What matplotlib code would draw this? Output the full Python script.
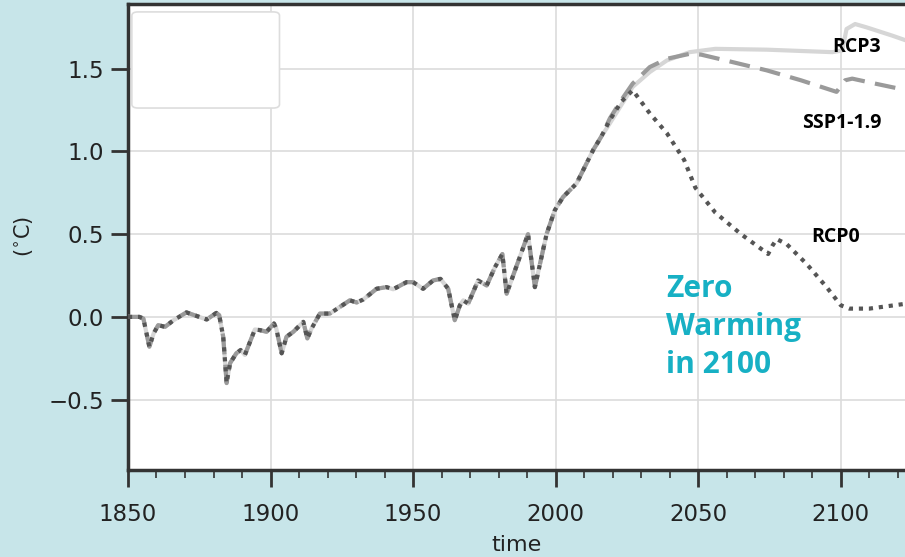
import matplotlib
matplotlib.use("Agg")
import matplotlib.pyplot as plt
from matplotlib.patches import FancyBboxPatch
import numpy as np

# ---------------- data ----------------
hist_years = [1850, 1854, 1855.4, 1857.5, 1859, 1860.6, 1863, 1866, 1870.5, 1874,
              1877.6, 1881, 1882, 1883.4, 1884.6, 1885.8, 1888, 1889.5, 1891, 1894.5,
              1896.3, 1898.6, 1901.2, 1902, 1903.9, 1905.6, 1908, 1911.5, 1912.9, 1914.4,
              1917.3, 1920.8, 1924.3, 1927.8, 1930.2, 1932.5, 1937.2, 1940.7, 1943, 1947.7,
              1950, 1953.5, 1957, 1959.6, 1962.3, 1964.6, 1966.4, 1967.6, 1969.3, 1972.8,
              1975.8, 1978.7, 1981.3, 1982.8, 1985.7, 1990.3, 1992.7, 1996.8, 1999.7, 2002.6,
              2007.3, 2013.1, 2016]
hist_vals = [0.00, 0.00, -0.01, -0.18, -0.10, -0.05, -0.06, -0.02, 0.027, 0.006,
             -0.016, 0.024, 0.01, -0.12, -0.40, -0.28, -0.22, -0.20, -0.23, -0.076,
             -0.08, -0.09, -0.04, -0.07, -0.22, -0.12, -0.09, -0.03, -0.13, -0.07,
             0.02, 0.02, 0.06, 0.10, 0.087, 0.105, 0.17, 0.18, 0.167, 0.21,
             0.21, 0.17, 0.22, 0.23, 0.17, -0.02, 0.07, 0.10, 0.08, 0.22,
             0.19, 0.30, 0.38, 0.14, 0.28, 0.50, 0.18, 0.50, 0.645, 0.725,
             0.806, 1.007, 1.09]

rcp0_years = [2019, 2023, 2027, 2033, 2039, 2045, 2049, 2056, 2065, 2074.5,
              2076, 2077.5, 2081, 2088, 2095, 2100, 2103, 2110, 2123]
rcp0_vals = [1.19, 1.30, 1.37, 1.23, 1.11, 0.95, 0.78, 0.63, 0.50, 0.38,
             0.43, 0.47, 0.44, 0.32, 0.18, 0.07, 0.05, 0.05, 0.08]

ssp119_years = [2019, 2023, 2027, 2033, 2039, 2047, 2051, 2062, 2074, 2086,
                2098.5, 2101.5, 2104, 2112, 2123]
ssp119_vals = [1.20, 1.31, 1.41, 1.51, 1.56, 1.59, 1.585, 1.54, 1.49, 1.43,
               1.36, 1.43, 1.44, 1.41, 1.37]

rcp3_years = [2019, 2023, 2027, 2033, 2039, 2047, 2056, 2074, 2097, 2100.5,
              2102, 2105, 2109, 2118, 2123]
rcp3_vals = [1.17, 1.28, 1.39, 1.48, 1.55, 1.60, 1.62, 1.615, 1.60, 1.61,
             1.74, 1.77, 1.75, 1.70, 1.67]

x_ticks = [1850, 1900, 1950, 2000, 2050, 2100]
y_ticks = [-0.5, 0.0, 0.5, 1.0, 1.5]

# ---------------- figure ----------------
BG = "#c7e5e9"
fig = plt.figure(figsize=(9.05, 5.57), dpi=100, facecolor=BG)
ax = fig.add_axes([0.1414, 0.156, 0.8586, 0.8377])
ax.set_facecolor("white")

def series(yrs, vals):
    return np.array(hist_years + yrs), np.array(hist_vals + vals)

x3, y3 = series(rcp3_years, rcp3_vals)
xs, ys = series(ssp119_years, ssp119_vals)
x0, y0 = series(rcp0_years, rcp0_vals)

ax.plot(x3, y3, color="#d6d6d6", lw=3, solid_capstyle="round", zorder=3)
ax.plot(xs, ys, color="#9a9a9a", lw=3, linestyle=(0, (5, 2.5)), zorder=4)
ax.plot(x0, y0, color="#555555", lw=3, linestyle=(0, (1, 1.4)), zorder=5)

ax.set_xlim(1850, 2122.5)
ax.set_ylim(-0.926, 1.894)
ax.set_xticks(x_ticks)
ax.set_yticks(y_ticks)
ax.set_xticks(np.arange(1850, 2125, 10), minor=True)
ax.set_yticklabels(["\u22120.5", "0.0", "0.5", "1.0", "1.5"])
ax.grid(True, which="major", color="#dcdcdc", lw=1.2)
ax.set_axisbelow(True)

for s in ["left", "bottom", "top"]:
    ax.spines[s].set_color("#333333")
    ax.spines[s].set_linewidth(2.5)
ax.spines["right"].set_visible(False)

ax.tick_params(axis="both", which="major", length=12, width=2, color="#333333",
               labelsize=16.5, labelcolor="#222222")
ax.tick_params(axis="x", which="major", pad=12)
ax.tick_params(axis="y", which="major", pad=5)
ax.tick_params(axis="x", which="minor", length=6, width=1.2, color="#333333")

ax.set_xlabel("time", fontsize=16, color="#222222", labelpad=6)
ax.set_ylabel("($^{\\circ}$C)", fontsize=15, color="#222222", labelpad=10)

# empty legend frame
box = FancyBboxPatch((0.005, 0.776), 0.19, 0.206, boxstyle="round,pad=0,rounding_size=0.008",
                     transform=ax.transAxes, facecolor="white", edgecolor="#dddddd",
                     lw=1.2, zorder=6)
ax.add_patch(box)

# annotations
lab = dict(fontsize=14, fontweight="bold", color="black", family=["Open Sans", "DejaVu Sans"])
ax.text(2105.6, 1.63, "RCP3", ha="center", va="center", **lab)
ax.text(2100.3, 1.17, "SSP1-1.9", ha="center", va="center", **lab)
ax.text(2098.2, 0.48, "RCP0", ha="center", va="center", **lab)

ax.text(2038.8, -0.06, "Zero\nWarming\nin 2100", ha="left", va="center",
        fontsize=21.5, fontweight="bold", color="#17b0c4", linespacing=1.36,
        family=["Open Sans", "DejaVu Sans"], zorder=7)

fig.savefig("out.png", dpi=100, facecolor=BG)
